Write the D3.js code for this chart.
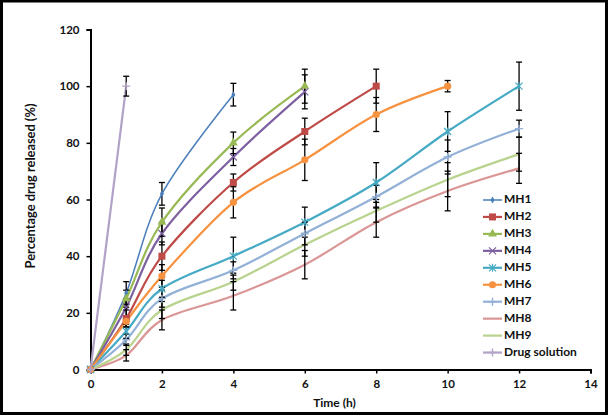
<!DOCTYPE html>
<html>
<head>
<meta charset="utf-8">
<script src="https://cdn.jsdelivr.net/npm/d3@7"></script>
<style>
  html, body { margin: 0; padding: 0; background: #fff; }
  svg { display: block; font-family: Lato, "Open Sans", sans-serif; }
</style>
</head>
<body>
<svg id="chart" width="609" height="418"></svg>
<script>
// --- data ---
const seriesNames = ["MH1", "MH2", "MH3", "MH4", "MH5", "MH6", "MH7", "MH8", "MH9", "Drug solution"];
const seriesColors = ["#4A7EBB", "#BE4B48", "#98B954", "#7D60A0", "#46AAC5", "#F69240", "#93B1D7", "#DA9694", "#B9D38F", "#B3A2C7"];
const seriesMarkers = ["diamond", "square", "triangle", "cross", "star", "circle", "plus", "none", "none", "plus"];

const timesMH1 = [0, 1, 2, 4];
const timesMH2 = [0, 1, 2, 4, 6, 8];
const timesMH3 = [0, 1, 2, 4, 6];
const timesMH4 = [0, 1, 2, 4, 6];
const timesMH6 = [0, 1, 2, 4, 6, 8, 10];
const timesLong = [0, 1, 2, 4, 6, 8, 10, 12];
const timesDrug = [0, 1];

const valuesMH1 = [0, 27, 62, 97];
const valuesMH2 = [0, 18, 40, 66, 84, 100];
const valuesMH3 = [0, 25, 52, 80, 100];
const valuesMH4 = [0, 22, 48, 75, 98];
const valuesMH5 = [0, 13.5, 28.5, 40, 52, 66, 84, 100];
const valuesMH6 = [0, 17, 33, 59, 74, 90, 100];
const valuesMH7 = [0, 10.5, 25, 35, 48, 61, 75, 85];
const valuesMH8 = [0, 5, 17.5, 26, 37, 52, 63, 71];
const valuesMH9 = [0, 7, 21, 31, 44, 56, 67, 76];
const valuesDrug = [0, 100];

const errMH1 = [0, 4, 4, 4];
const errMH2 = [0, 3, 5, 3, 4.7, 6];
const errMH3 = [0, 3, 5, 3.8, 6];
const errMH4 = [0, 3, 4, 3, 6];
const errMH5 = [0, 2.5, 3, 6.7, 5.3, 7, 7, 8.5];
const errMH6 = [0, 2, 4, 5.5, 7.3, 6, 2];
const errMH7 = [0, 2, 3, 3, 4, 4, 6, 3];
const errMH8 = [0, 2, 3.5, 5, 5, 5.3, 7, 5.3];
const errMH9 = [0, 2, 3, 3, 4, 4, 6, 6];
const errDrug = [0, 3.5];

const xTicks = [0, 2, 4, 6, 8, 10, 12, 14];
const yTicks = [0, 20, 40, 60, 80, 100, 120];

const seriesTimes = [timesMH1, timesMH2, timesMH3, timesMH4, timesLong, timesMH6, timesLong, timesLong, timesLong, timesDrug];
const seriesValues = [valuesMH1, valuesMH2, valuesMH3, valuesMH4, valuesMH5, valuesMH6, valuesMH7, valuesMH8, valuesMH9, valuesDrug];
const seriesErrors = [errMH1, errMH2, errMH3, errMH4, errMH5, errMH6, errMH7, errMH8, errMH9, errDrug];

const series = seriesNames.map((name, i) => ({
    name, color: seriesColors[i], marker: seriesMarkers[i],
    points: seriesTimes[i].map((t, j) => ({ t, v: seriesValues[i][j], e: seriesErrors[i][j] }))
}));

// --- setup ---
const svg = d3.select("#chart");
svg.append("rect").attr("x", 1.5).attr("y", 1).attr("width", 605).attr("height", 412.5)
    .attr("fill", "#fff").attr("stroke", "#000").attr("stroke-width", 3);

const x = d3.scaleLinear().domain([0, 14]).range([90.5, 590.5]);
const y = d3.scaleLinear().domain([0, 120]).range([369.5, 29.5]);

// axes
const xAxis = svg.append("g").attr("transform", `translate(0,${y(0)})`)
    .call(d3.axisBottom(x).tickValues(xTicks).tickSize(4).tickPadding(6));
const yAxis = svg.append("g").attr("transform", `translate(${x(0)},0)`)
    .call(d3.axisLeft(y).tickValues(yTicks).tickSize(4).tickPadding(7));
[xAxis, yAxis].forEach(a => {
    a.select(".domain").attr("stroke", "#000").attr("stroke-width", 2);
    a.selectAll(".tick line").attr("stroke", "#000").attr("stroke-width", 1.5);
    a.selectAll(".tick text").attr("fill", "#111").style("font-size", "11.5px").style("font-weight", "bold")
        .style("font-family", "Lato, 'Open Sans', sans-serif");
});

svg.append("text").attr("x", (x(0) + x(14)) / 2 - 6).attr("y", 404)
    .attr("text-anchor", "middle").attr("dominant-baseline", "middle")
    .style("font-size", "12px").style("font-weight", "bold").attr("fill", "#111")
    .text("Time (h)");
const yTitle = svg.append("text").attr("transform", "translate(32,186) rotate(-90)")
    .attr("text-anchor", "middle").attr("dominant-baseline", "middle")
    .style("font-size", "11px").style("font-weight", "bold").attr("fill", "#111")
    .text("Percentage drug released (%)");
// fit the title to the length it has in the picture (~165px)
const titleLen = yTitle.node().getComputedTextLength();
if (titleLen > 0) yTitle.style("font-size", (11 * 165 / titleLen).toFixed(2) + "px");

// lines
const line = d3.line().x(d => x(d.t)).y(d => y(d.v)).curve(d3.curveCardinal.tension(0));
const plot = svg.append("g");
series.forEach((s, i) => {
    plot.append("path").datum(s.points)
        .attr("fill", "none").attr("stroke", s.color)
        .attr("stroke-width", i === 0 ? 1.5 : 2.2)
        .attr("d", line);
});

// error bars
const errG = svg.append("g").attr("stroke", "#000").attr("stroke-width", 1.3);
series.forEach(s => {
    s.points.filter(p => p.e > 0).forEach(p => {
        const cx = x(p.t);
        errG.append("line").attr("x1", cx).attr("x2", cx).attr("y1", y(p.v + p.e)).attr("y2", y(p.v - p.e));
        [p.v + p.e, p.v - p.e].forEach(yy => {
            errG.append("line").attr("x1", cx - 3).attr("x2", cx + 3).attr("y1", y(yy)).attr("y2", y(yy));
        });
    });
});

// markers
function drawMarker(g, type, color, cx, cy) {
    if (type === "none") return;
    if (type === "diamond") {
        g.append("path").attr("d", d3.symbol(d3.symbolDiamond, 14)()).attr("transform", `translate(${cx},${cy})`).attr("fill", color);
    } else if (type === "square") {
        g.append("rect").attr("x", cx - 3.5).attr("y", cy - 3.5).attr("width", 7).attr("height", 7).attr("fill", color);
    } else if (type === "triangle") {
        g.append("path").attr("d", d3.symbol(d3.symbolTriangle, 34)()).attr("transform", `translate(${cx},${cy})`).attr("fill", color);
    } else if (type === "circle") {
        g.append("circle").attr("cx", cx).attr("cy", cy).attr("r", 3.6).attr("fill", color);
    } else if (type === "cross") {
        g.append("path").attr("d", `M${cx - 3.5},${cy - 3.5}L${cx + 3.5},${cy + 3.5}M${cx - 3.5},${cy + 3.5}L${cx + 3.5},${cy - 3.5}`)
            .attr("stroke", color).attr("stroke-width", 1.2);
    } else if (type === "star") {
        g.append("path").attr("d", `M${cx - 3.5},${cy - 3.5}L${cx + 3.5},${cy + 3.5}M${cx - 3.5},${cy + 3.5}L${cx + 3.5},${cy - 3.5}M${cx},${cy - 4}L${cx},${cy + 4}`)
            .attr("stroke", color).attr("stroke-width", 1.2);
    } else if (type === "plus") {
        g.append("path").attr("d", `M${cx - 4},${cy}L${cx + 4},${cy}M${cx},${cy - 4}L${cx},${cy + 4}`)
            .attr("stroke", color).attr("stroke-width", 1.4);
    }
}
const markG = svg.append("g");
series.forEach(s => s.points.forEach(p => drawMarker(markG, s.marker, s.color, x(p.t), y(p.v))));

// legend
const legend = svg.append("g");
series.forEach((s, i) => {
    const ly = 200 + i * 16.95;
    legend.append("line").attr("x1", 483).attr("x2", 502).attr("y1", ly).attr("y2", ly)
        .attr("stroke", s.color).attr("stroke-width", i === 0 ? 1.5 : 2.2);
    drawMarker(legend, s.marker, s.color, 492.5, ly);
    legend.append("text").attr("x", 504).attr("y", ly).attr("dominant-baseline", "middle")
        .style("font-size", "12px").style("font-weight", "bold").attr("fill", "#111")
        .text(s.name);
});
</script>
</body>
</html>
